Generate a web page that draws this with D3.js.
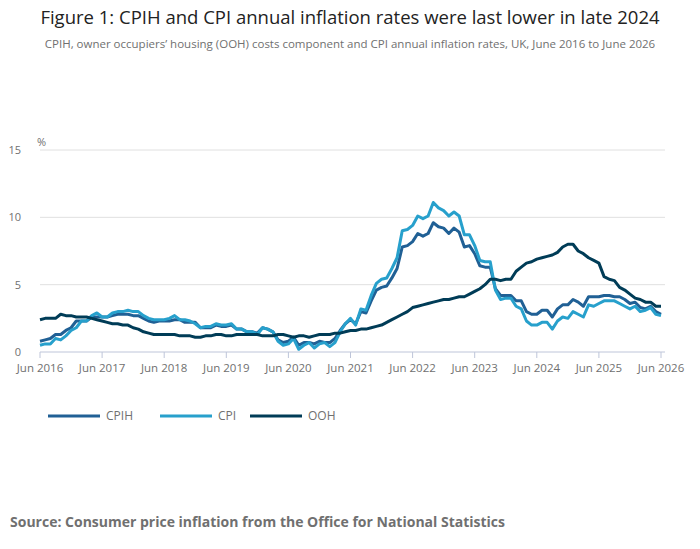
<!DOCTYPE html><html><head><meta charset="utf-8"><script src="https://d3js.org/d3.v7.min.js"></script>
<style>body{margin:0;background:#fff;font-family:"Open Sans",sans-serif}</style></head><body><svg id="c" width="700" height="549"></svg>
<script>
const cpih=[0.8,0.9,1.0,1.3,1.3,1.6,1.8,
2.3,2.3,2.3,2.6,2.6,2.6,2.6,2.7,2.8,2.8,2.8,2.7,
2.7,2.5,2.3,2.2,2.3,2.3,2.3,2.4,2.4,2.2,2.2,2.2,
1.8,1.8,1.8,2.0,1.9,1.9,2.0,1.7,1.7,1.5,1.5,1.4,
1.8,1.7,1.5,0.9,0.7,0.8,1.1,0.5,0.7,0.7,0.6,0.8,
0.7,0.7,1.0,1.6,2.1,2.4,2.1,3.0,2.9,3.8,4.6,4.8,
4.9,5.5,6.2,7.8,7.9,8.2,8.8,8.6,8.8,9.6,9.3,9.2,
8.8,9.2,8.9,7.8,7.9,7.3,6.4,6.3,6.3,4.7,4.2,4.2,
4.2,3.8,3.8,3.0,2.8,2.8,3.1,3.1,2.6,3.2,3.5,3.5,
3.9,3.7,3.4,4.1,4.1,4.1,4.2,4.2,4.1,4.1,3.9,3.6,
3.7,3.3,3.2,3.4,3.0,2.8];
const cpi=[0.5,0.6,0.6,1.0,0.9,1.2,1.6,
1.8,2.3,2.3,2.7,2.9,2.6,2.6,2.9,3.0,3.0,3.1,3.0,
3.0,2.7,2.5,2.4,2.4,2.4,2.5,2.7,2.4,2.4,2.3,2.1,
1.8,1.9,1.9,2.1,2.0,2.0,2.1,1.7,1.7,1.5,1.5,1.3,
1.8,1.7,1.5,0.8,0.5,0.6,1.0,0.2,0.5,0.7,0.3,0.6,
0.7,0.4,0.7,1.5,2.1,2.5,2.0,3.2,3.1,4.2,5.1,5.4,
5.5,6.2,7.0,9.0,9.1,9.4,10.1,9.9,10.1,11.1,10.7,10.5,
10.1,10.4,10.1,8.7,8.7,7.9,6.8,6.7,6.7,4.6,3.9,4.0,
4.0,3.4,3.2,2.3,2.0,2.0,2.2,2.2,1.7,2.3,2.6,2.5,
3.0,2.8,2.6,3.5,3.4,3.6,3.8,3.8,3.8,3.6,3.4,3.2,
3.4,3.0,3.1,3.3,2.8,2.7];
const ooh=[2.4,2.5,2.5,2.5,2.8,2.7,2.7,
2.6,2.6,2.6,2.5,2.4,2.3,2.2,2.1,2.1,2.0,2.0,1.8,
1.7,1.5,1.4,1.3,1.3,1.3,1.3,1.3,1.2,1.2,1.2,1.1,
1.1,1.2,1.2,1.3,1.3,1.2,1.2,1.3,1.3,1.3,1.3,1.3,
1.2,1.2,1.2,1.3,1.3,1.2,1.1,1.2,1.2,1.1,1.2,1.3,
1.3,1.3,1.4,1.4,1.5,1.6,1.6,1.7,1.7,1.8,1.9,2.0,
2.2,2.4,2.6,2.8,3.0,3.3,3.4,3.5,3.6,3.7,3.8,3.9,
3.9,4.0,4.1,4.1,4.3,4.5,4.7,5.0,5.4,5.4,5.3,5.4,
5.4,6.0,6.3,6.6,6.7,6.9,7.0,7.1,7.2,7.4,7.8,8.0,
8.0,7.5,7.3,7.0,6.8,6.6,5.6,5.4,5.3,4.8,4.6,4.3,
4.0,3.9,3.7,3.7,3.4,3.4];
const xTickLabels=["Jun 2016","Jun 2017","Jun 2018","Jun 2019","Jun 2020","Jun 2021","Jun 2022","Jun 2023","Jun 2024","Jun 2025","Jun 2026"];
const yTicks=[0,5,10,15];
const seriesNames=["CPIH","CPI","OOH"];
const colors=["#206095","#27a0cc","#003c57"];

const svg=d3.select("#c");
svg.append("text").attr("x",350).attr("y",24).attr("text-anchor","middle").attr("font-size",18.5).attr("fill","#222").text("Figure 1: CPIH and CPI annual inflation rates were last lower in late 2024");
svg.append("text").attr("x",350).attr("y",48).attr("text-anchor","middle").attr("font-size",11.5).attr("fill","#707070").text("CPIH, owner occupiers’ housing (OOH) costs component and CPI annual inflation rates, UK, June 2016 to June 2026");
const x=d3.scaleLinear().domain([0,120]).range([40,661]);
const y=d3.scaleLinear().domain([0,15]).range([352,150]);
const g=svg.append("g");
yTicks.forEach(t=>{
  g.append("line").attr("x1",40).attr("x2",665).attr("y1",y(t)).attr("y2",y(t)).attr("stroke",t==0?"#bec5d9":"#e0e0e0");
  g.append("text").attr("x",21).attr("y",y(t)+4).attr("text-anchor","end").attr("font-size",11).attr("fill","#707070").text(t);
});
svg.append("text").attr("x",37).attr("y",146).attr("font-size",11).attr("fill","#707070").text("%");
xTickLabels.forEach((l,i)=>{
  const xx=x(i*12);
  g.append("line").attr("x1",xx).attr("x2",xx).attr("y1",352).attr("y2",358).attr("stroke","#bec5d9");
  g.append("text").attr("x",xx).attr("y",372).attr("text-anchor","middle").attr("font-size",11.5).attr("fill","#707070").text(l);
});
const line=d3.line().x((d,i)=>x(i)).y(d=>y(d));
[cpih,cpi,ooh].forEach((s,k)=>{
  g.append("path").attr("d",line(s)).attr("fill","none").attr("stroke",colors[k]).attr("stroke-width",3).attr("stroke-linejoin","round");
});
const lx=[48,160,250];
seriesNames.forEach((n,k)=>{
  svg.append("line").attr("x1",lx[k]).attr("x2",lx[k]+52).attr("y1",416).attr("y2",416).attr("stroke",colors[k]).attr("stroke-width",3);
  svg.append("text").attr("x",lx[k]+58).attr("y",420).attr("font-size",12).attr("fill","#707070").text(n);
});
svg.append("text").attr("x",10).attr("y",527).attr("font-size",14).attr("font-weight","bold").attr("fill","#707070").text("Source: Consumer price inflation from the Office for National Statistics");
</script></body></html>
